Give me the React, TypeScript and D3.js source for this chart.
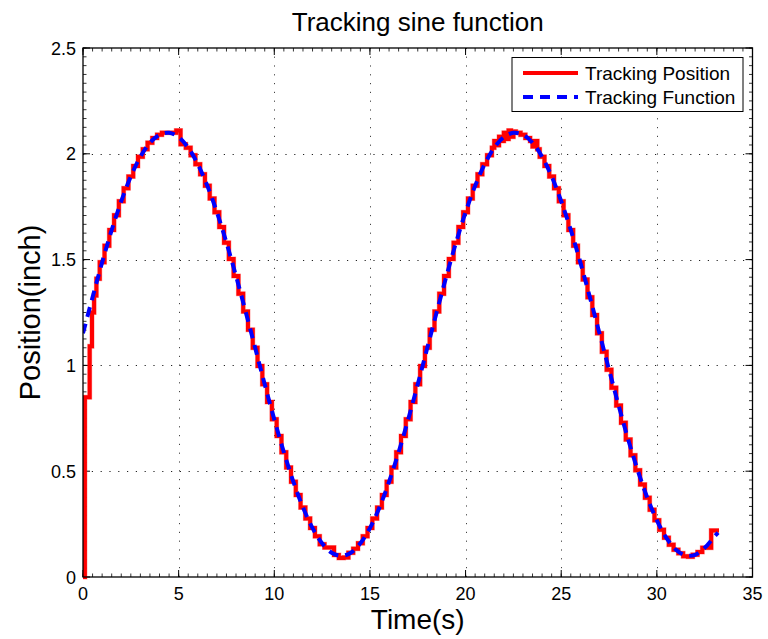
import React from 'react';
import * as d3 from 'd3';

const xTicks = [0, 5, 10, 15, 20, 25, 30, 35];
const xTickLabels = ['0', '5', '10', '15', '20', '25', '30', '35'];
const yTicks = [0, 0.5, 1, 1.5, 2, 2.5];
const yTickLabels = ['0', '0.5', '1', '1.5', '2', '2.5'];

const titleText = 'Tracking sine function';
const xLabel = 'Time(s)';
const yLabel = 'Position(inch)';
const seriesNames = ['Tracking Position', 'Tracking Function'];

// Tracking Function (blue dashed), sampled every 0.5 s
const functionTime = [0, 0.5, 1.0, 1.5, 2.0, 2.5, 3.0, 3.5, 4.0, 4.5, 5.0, 5.5, 6.0, 6.5, 7.0, 7.5, 8.0, 8.5, 9.0, 9.5,
  10.0, 10.5, 11.0, 11.5, 12.0, 12.5, 13.0, 13.5, 14.0, 14.5, 15.0, 15.5, 16.0, 16.5, 17.0, 17.5, 18.0, 18.5, 19.0, 19.5,
  20.0, 20.5, 21.0, 21.5, 22.0, 22.5, 23.0, 23.5, 24.0, 24.5, 25.0, 25.5, 26.0, 26.5, 27.0, 27.5, 28.0, 28.5, 29.0, 29.5,
  30.0, 30.5, 31.0, 31.5, 32.0, 32.5, 33.0, 33.2];
const functionValue = [1.152, 1.322, 1.487, 1.640, 1.776, 1.893, 1.986, 2.052, 2.090, 2.099, 2.079, 2.029, 1.951, 1.849, 1.724, 1.580, 1.422, 1.255, 1.083, 0.911,
  0.745, 0.590, 0.450, 0.329, 0.231, 0.159, 0.115, 0.100, 0.115, 0.159, 0.231, 0.329, 0.450, 0.590, 0.745, 0.911, 1.083, 1.255, 1.422, 1.580,
  1.724, 1.849, 1.951, 2.029, 2.079, 2.099, 2.090, 2.052, 1.986, 1.893, 1.776, 1.640, 1.487, 1.322, 1.152, 0.980, 0.811, 0.650, 0.504, 0.375,
  0.268, 0.185, 0.129, 0.102, 0.105, 0.138, 0.190, 0.210];

// Tracking Position (red staircase): time each level starts, and the level
const positionTime = [0, 0.1, 0.35, 0.47, 0.58, 0.7, 0.875, 1.125, 1.375, 1.625, 1.875, 2.125, 2.375, 2.625, 2.875, 3.125, 3.375, 3.625, 3.875,
  4.125, 4.375, 4.625, 4.875, 5.1, 5.375, 5.625, 5.875, 6.125, 6.375, 6.625, 6.875, 7.125, 7.375, 7.625, 7.875, 8.125, 8.375, 8.625, 8.875,
  9.125, 9.375, 9.625, 9.875, 10.125, 10.375, 10.625, 10.875, 11.125, 11.375, 11.625, 11.875, 12.125, 12.375, 12.625, 12.875, 13.125, 13.375,
  13.625, 13.875, 14.125, 14.375, 14.625, 14.875, 15.125, 15.375, 15.625, 15.875, 16.125, 16.375, 16.625, 16.875, 17.125, 17.375, 17.625,
  17.875, 18.125, 18.375, 18.625, 18.875, 19.125, 19.375, 19.625, 19.875, 20.125, 20.375, 20.625, 20.875, 21.125, 21.375, 21.5, 21.625,
  21.75, 21.875, 22.0, 22.125, 22.25, 22.375, 22.5, 22.625, 22.875, 23.125, 23.375, 23.5, 23.625, 23.75, 23.875, 24.125, 24.375, 24.625,
  24.875, 25.125, 25.375, 25.625, 25.875, 26.125, 26.375, 26.625, 26.875, 27.125, 27.375, 27.625, 27.875, 28.125, 28.375, 28.625, 28.875,
  29.125, 29.375, 29.625, 29.875, 30.125, 30.375, 30.625, 30.875, 31.125, 31.375, 31.625, 31.875, 32.125, 32.375, 32.84, 33.25];
const positionValue = [0, 0.85, 1.09, 1.25, 1.33, 1.41, 1.487, 1.565, 1.640, 1.710, 1.776, 1.837, 1.893, 1.942, 1.986, 2.022, 2.052, 2.075, 2.090,
  2.099, 2.099, 2.100, 2.110, 2.045, 2.029, 1.993, 1.951, 1.903, 1.849, 1.789, 1.724, 1.654, 1.580, 1.503, 1.422, 1.339, 1.255, 1.169, 1.083,
  0.997, 0.911, 0.827, 0.745, 0.666, 0.590, 0.518, 0.450, 0.387, 0.329, 0.277, 0.231, 0.192, 0.155, 0.140, 0.140, 0.104, 0.090,
  0.092, 0.115, 0.133, 0.159, 0.192, 0.231, 0.277, 0.329, 0.387, 0.450, 0.518, 0.590, 0.666, 0.745, 0.827, 0.911, 0.997,
  1.083, 1.169, 1.255, 1.339, 1.422, 1.503, 1.580, 1.654, 1.724, 1.789, 1.849, 1.903, 1.951, 1.993, 2.029, 2.060, 2.040,
  2.080, 2.060, 2.100, 2.070, 2.110, 2.080, 2.105, 2.099, 2.090, 2.075, 2.060, 2.035, 2.060, 2.022, 1.986, 1.942, 1.893, 1.837,
  1.776, 1.710, 1.640, 1.565, 1.487, 1.406, 1.322, 1.238, 1.152, 1.065, 0.980, 0.894, 0.811, 0.729, 0.650, 0.575, 0.504,
  0.437, 0.375, 0.318, 0.268, 0.223, 0.185, 0.153, 0.129, 0.112, 0.098, 0.096, 0.105, 0.118, 0.138, 0.220, 0.220];

const W = 768;
const H = 639;
const M = { left: 83, right: 752.5, top: 48, bottom: 577 };
const FONT = '"Liberation Sans", Arial, Helvetica, sans-serif';

export default function App() {
  const x = d3.scaleLinear().domain([0, 35]).range([M.left, M.right]);
  const y = d3.scaleLinear().domain([0, 2.5]).range([M.bottom, M.top]);

  const funcData = functionTime.map((t, i) => [t, functionValue[i]] as [number, number]);
  const posData = positionTime.map((t, i) => [t, positionValue[i]] as [number, number]);

  const funcLine = d3.line<[number, number]>().x(d => x(d[0])).y(d => y(d[1])).curve(d3.curveCatmullRom);
  const posLine = d3.line<[number, number]>().x(d => x(d[0])).y(d => y(d[1])).curve(d3.curveStepAfter);

  const xMinor = d3.range(0, 35.0001, 0.5);
  const yMinor = d3.range(0, 2.5001, 0.5 / 12);

  const majorLen = 7;
  const minorLen = 3.5;

  return (
    <svg width={W} height={H} style={{ position: 'absolute', left: 0, top: 0, background: '#fff' }} fontFamily={FONT}>
      <rect x={0} y={0} width={W} height={H} fill="#fff" />
      <defs>
        <clipPath id="plotClip">
          <rect x={M.left} y={M.top - 4} width={M.right - M.left + 2} height={M.bottom - M.top + 8} />
        </clipPath>
      </defs>

      {/* grid */}
      {xTicks.slice(1, -1).map(t => (
        <line key={'gx' + t} x1={Math.round(x(t)) + 0.5} x2={Math.round(x(t)) + 0.5} y1={M.bottom} y2={M.top}
          stroke="#444" strokeWidth={1} strokeDasharray="1.2,7.6" />
      ))}
      {yTicks.slice(1, -1).map(t => (
        <line key={'gy' + t} x1={M.left} x2={M.right} y1={Math.round(y(t)) + 0.5} y2={Math.round(y(t)) + 0.5}
          stroke="#222" strokeWidth={1} strokeDasharray="1.2,7.6" />
      ))}

      {/* minor ticks */}
      {xMinor.map((t, i) => (
        <g key={'xm' + i}>
          <line x1={x(t)} x2={x(t)} y1={M.bottom} y2={M.bottom - minorLen} stroke="#000" strokeWidth={0.8} />
          <line x1={x(t)} x2={x(t)} y1={M.top} y2={M.top + minorLen} stroke="#000" strokeWidth={0.8} />
        </g>
      ))}
      {yMinor.map((t, i) => (
        <g key={'ym' + i}>
          <line x1={M.left} x2={M.left + minorLen} y1={y(t)} y2={y(t)} stroke="#000" strokeWidth={0.8} />
          <line x1={M.right} x2={M.right - minorLen} y1={y(t)} y2={y(t)} stroke="#000" strokeWidth={0.8} />
        </g>
      ))}

      {/* major ticks */}
      {xTicks.map(t => (
        <g key={'xt' + t}>
          <line x1={x(t)} x2={x(t)} y1={M.bottom} y2={M.bottom - majorLen} stroke="#000" strokeWidth={1} />
          <line x1={x(t)} x2={x(t)} y1={M.top} y2={M.top + majorLen} stroke="#000" strokeWidth={1} />
        </g>
      ))}
      {yTicks.map(t => (
        <g key={'yt' + t}>
          <line x1={M.left} x2={M.left + majorLen} y1={y(t)} y2={y(t)} stroke="#000" strokeWidth={1} />
          <line x1={M.right} x2={M.right - majorLen} y1={y(t)} y2={y(t)} stroke="#000" strokeWidth={1} />
        </g>
      ))}

      {/* data */}
      <g clipPath="url(#plotClip)">
        <path d={posLine(posData) || ''} fill="none" stroke="#ff0000" strokeWidth={5} strokeLinejoin="miter" strokeOpacity={0.35} />
        <path d={posLine(posData) || ''} fill="none" stroke="#ff0000" strokeWidth={4} strokeLinejoin="miter" />
        <path d={funcLine(funcData) || ''} fill="none" stroke="#0000ff" strokeWidth={4} strokeDasharray="10,7" />
      </g>

      {/* box */}
      <rect x={M.left} y={M.top} width={M.right - M.left} height={M.bottom - M.top} fill="none" stroke="#000" strokeWidth={1.3} />

      {/* tick labels */}
      {xTicks.map((t, i) => (
        <text key={'xl' + t} x={x(t)} y={600} textAnchor="middle" fontSize={18} fill="#000">{xTickLabels[i]}</text>
      ))}
      {yTicks.map((t, i) => (
        <text key={'yl' + t} x={76} y={y(t) + 6.5} textAnchor="end" fontSize={18} fill="#000">{yTickLabels[i]}</text>
      ))}

      {/* title & labels */}
      <text x={(M.left + M.right) / 2} y={31} textAnchor="middle" fontSize={26} fill="#000">{titleText}</text>
      <text x={(M.left + M.right) / 2} y={629} textAnchor="middle" fontSize={28} fill="#000">{xLabel}</text>
      <text transform={`translate(40, ${(M.top + M.bottom) / 2}) rotate(-90)`} textAnchor="middle" fontSize={29} fill="#000">{yLabel}</text>

      {/* legend */}
      <g>
        <rect x={512} y={57.5} width={231} height={54} fill="#fff" stroke="#000" strokeWidth={1} />
        <line x1={523} x2={578} y1={73} y2={73} stroke="#ff0000" strokeWidth={4} />
        <line x1={523} x2={578} y1={97} y2={97} stroke="#0000ff" strokeWidth={4} strokeDasharray="10,7" />
        <text x={585} y={79.5} fontSize={19} fill="#000">{seriesNames[0]}</text>
        <text x={585} y={103.5} fontSize={19} fill="#000">{seriesNames[1]}</text>
      </g>
    </svg>
  );
}
